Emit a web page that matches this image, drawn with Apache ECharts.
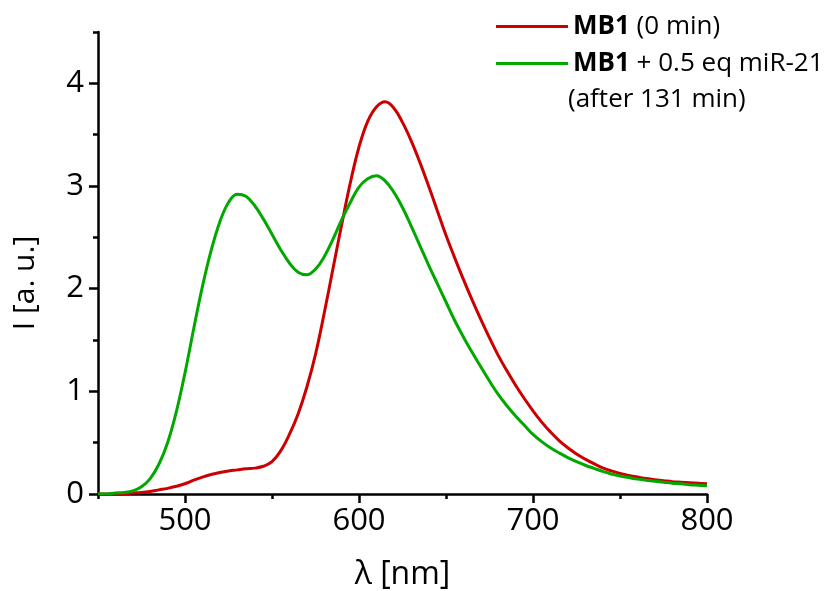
<!DOCTYPE html>
<html>
<head>
<meta charset="utf-8">
<script src="https://cdn.jsdelivr.net/npm/echarts@6/dist/echarts.min.js"></script>
<style>html,body{margin:0;padding:0;background:#fff}#c{width:840px;height:591px}</style>
</head>
<body>
<div id="c"></div>
<script>
var wavelengths = [450,455,460,465,470,475,480,485,490,495,500,505,510,515,520,525,530,535,540,545,550,555,560,565,570,575,580,585,590,595,600,605,610,615,620,625,630,635,640,645,650,655,660,665,670,675,680,685,690,695,700,705,710,715,720,725,730,735,740,745,750,755,760,765,770,775,780,785,790,795,800];
var mb1 = [0.00,0.00,0.00,0.00,0.01,0.015,0.025,0.04,0.055,0.075,0.10,0.135,0.165,0.19,0.21,0.225,0.235,0.245,0.252,0.27,0.315,0.42,0.58,0.78,1.04,1.36,1.76,2.19,2.62,3.03,3.38,3.63,3.77,3.82,3.76,3.62,3.44,3.23,3.00,2.76,2.52,2.30,2.09,1.89,1.70,1.52,1.35,1.20,1.06,0.93,0.81,0.70,0.605,0.52,0.45,0.39,0.34,0.295,0.255,0.225,0.20,0.18,0.165,0.15,0.14,0.13,0.12,0.115,0.11,0.105,0.10];
var mb1Mir = [0.00,0.00,0.01,0.015,0.03,0.07,0.15,0.29,0.50,0.80,1.18,1.61,2.02,2.37,2.65,2.84,2.92,2.90,2.81,2.68,2.53,2.38,2.25,2.16,2.135,2.19,2.31,2.48,2.67,2.84,2.99,3.07,3.10,3.05,2.94,2.79,2.61,2.42,2.23,2.05,1.87,1.69,1.53,1.38,1.24,1.10,0.97,0.86,0.76,0.67,0.58,0.51,0.45,0.40,0.355,0.315,0.28,0.25,0.22,0.195,0.175,0.16,0.145,0.135,0.125,0.115,0.105,0.10,0.09,0.085,0.08];
var xMajorTicks = [500,600,700,800];
var xMinorTicks = [450,550,650,750];
var yMajorTicks = [0,1,2,3,4];
var yMinorTicks = [0.5,1.5,2.5,3.5,4.5];
var seriesNames = ['MB1 (0 min)', 'MB1 + 0.5 eq miR-21'];

function pairs(ys){ return wavelengths.map(function(x,i){ return [x, ys[i]]; }); }

var FONT = 'Open Sans';
var chart = echarts.init(document.getElementById('c'), null, {renderer:'canvas'});
var axisLineStyle = {color:'#000', width:2.5};
chart.setOption({
  animation:false,
  backgroundColor:'#fff',
  textStyle:{fontFamily:FONT},
  grid:{left:98, right:133, top:32, bottom:97, containLabel:false, outerBoundsMode:'none'},
  legend:{
    orient:'vertical', left:491, top:4, itemWidth:72, itemHeight:3, itemGap:2,
    icon:'rect',
    data:seriesNames,
    formatter:function(n){
      if(n===seriesNames[0]) return '{b|MB1} (0 min)';
      return '{b|MB1} + 0.5 eq miR-21';
    },
    textStyle:{fontFamily:FONT, fontSize:26, color:'#000', lineHeight:35,
      rich:{b:{fontFamily:FONT, fontSize:26, fontWeight:'bold', color:'#000', lineHeight:35}}}
  },
  graphic:[{type:'text', left:568, top:87, style:{text:'(after 131 min)', fontFamily:FONT, fontSize:26, fill:'#000'}}],
  xAxis:[{
    type:'value', min:450, max:800,
    name:'λ [nm]', nameLocation:'middle', nameGap:65,
    nameTextStyle:{fontFamily:FONT, fontSize:32, color:'#000'},
    axisLine:{show:true, lineStyle:axisLineStyle},
    axisTick:{show:true, length:9, lineStyle:{color:'#000', width:2.5}, customValues:xMajorTicks},
    axisLabel:{fontFamily:FONT, fontSize:31, color:'#000', margin:12, customValues:xMajorTicks},
    splitLine:{show:false}
  },{
    type:'value', min:450, max:800, position:'bottom', gridIndex:0,
    axisLine:{show:false},
    axisTick:{show:true, length:5, lineStyle:{color:'#000', width:2.5}, customValues:xMinorTicks},
    axisLabel:{show:false},
    splitLine:{show:false}
  }],
  yAxis:[{
    type:'value', min:0, max:4.5,
    name:'I [a. u.]', nameLocation:'middle', nameGap:58, nameRotate:90,
    nameTextStyle:{fontFamily:FONT, fontSize:30, color:'#000', padding:[0,40,0,0]},
    axisLine:{show:true, lineStyle:axisLineStyle},
    axisTick:{show:true, length:9, lineStyle:{color:'#000', width:2.5}, customValues:yMajorTicks},
    axisLabel:{fontFamily:FONT, fontSize:31, color:'#000', margin:14, customValues:yMajorTicks},
    splitLine:{show:false}
  },{
    type:'value', min:0, max:4.5, position:'left', gridIndex:0,
    axisLine:{show:false},
    axisTick:{show:true, length:5, lineStyle:{color:'#000', width:2.5}, customValues:yMinorTicks},
    axisLabel:{show:false},
    splitLine:{show:false}
  }],
  series:[{
    name:seriesNames[0], type:'line', data:pairs(mb1), smooth:0.4, showSymbol:false,
    lineStyle:{color:'#cc0000', width:3}, itemStyle:{color:'#cc0000'}, z:2
  },{
    name:seriesNames[1], type:'line', data:pairs(mb1Mir), smooth:0.4, showSymbol:false,
    lineStyle:{color:'#00a800', width:3}, itemStyle:{color:'#00a800'}, z:3
  }]
});
</script>
</body>
</html>
